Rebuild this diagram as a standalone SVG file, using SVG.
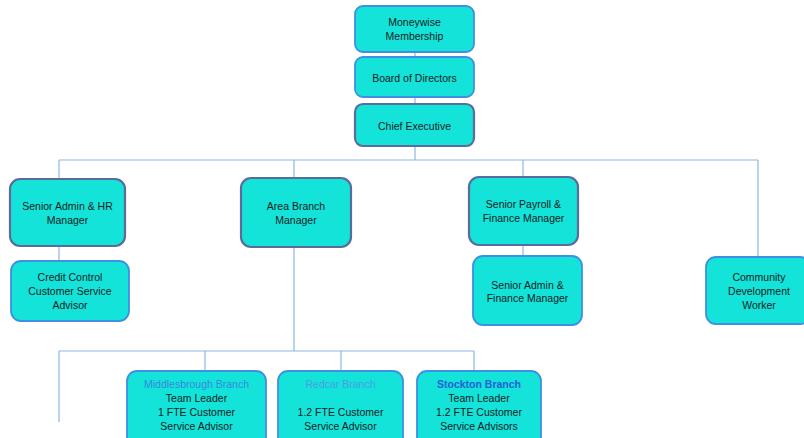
<svg xmlns="http://www.w3.org/2000/svg" width="804" height="438" viewBox="0 0 804 438">
<style>
.box{fill:#14e3d9;stroke:#3f8fe3;stroke-width:1.8}
.dark{stroke:#5b6c9c;stroke-width:2.2}
.conn{stroke:#8fb6e6;stroke-width:1.2;fill:none}
text{font-family:"Liberation Sans",Arial,sans-serif;font-size:10.5px;fill:#142222;text-anchor:middle;dominant-baseline:central}
.mb{fill:#3489e0}
.rc{fill:#4a9de8}
.st{fill:#1f62d4;font-weight:bold}
</style>
<rect width="804" height="438" fill="#ffffff"/>
<g id="connectors">
<path class="conn" d="M415 52V57M415 97V104M415 146V160M59 160H758M59 160V179M294 160V178M523 160V177M758 160V257M59 246V261M523 245V256M294 247V351M59 351H474M59 351V422M205 351V371M341 351V371M474 351V371"/>
</g>
<g id="moneywise"><rect class="box" x="355" y="6" width="119" height="46" rx="8"/><text x="414.5" y="22">Moneywise</text><text x="414.5" y="36">Membership</text></g>
<g id="board"><rect class="box" x="355" y="57" width="119" height="40" rx="8"/><text x="414.5" y="78">Board of Directors</text></g>
<g id="chief"><rect class="box dark" x="355" y="104" width="119" height="42" rx="8"/><text x="414.5" y="126">Chief Executive</text></g>
<g id="hr"><rect class="box dark" x="10" y="179" width="115" height="67" rx="10"/><text x="67.5" y="206">Senior Admin &amp; HR</text><text x="67.5" y="220">Manager</text></g>
<g id="credit"><rect class="box" x="11" y="261" width="118" height="60" rx="10"/><text x="70" y="277">Credit Control</text><text x="70" y="291">Customer Service</text><text x="70" y="305">Advisor</text></g>
<g id="area"><rect class="box dark" x="241" y="178" width="110" height="69" rx="10"/><text x="296" y="206">Area Branch</text><text x="296" y="220">Manager</text></g>
<g id="payroll"><rect class="box dark" x="469" y="177" width="109" height="68" rx="10"/><text x="523.5" y="204">Senior Payroll &amp;</text><text x="523.5" y="218">Finance Manager</text></g>
<g id="adminfin"><rect class="box" x="473" y="256" width="109" height="69" rx="10"/><text x="527.5" y="285">Senior Admin &amp;</text><text x="527.5" y="298">Finance Manager</text></g>
<g id="community"><rect class="box" x="706" y="257" width="104" height="67" rx="10"/><text x="759" y="277">Community</text><text x="759" y="291">Development</text><text x="759" y="305">Worker</text></g>
<g id="middlesbrough"><rect class="box" x="127" y="371" width="139" height="80" rx="10"/><text class="mb" x="196.5" y="384">Middlesbrough Branch</text><text x="196.5" y="398">Team Leader</text><text x="196.5" y="412">1 FTE Customer</text><text x="196.5" y="426">Service Advisor</text></g>
<g id="redcar"><rect class="box" x="278" y="371" width="125" height="80" rx="10"/><text class="rc" x="340.5" y="384">Redcar Branch</text><text x="340.5" y="412">1.2 FTE Customer</text><text x="340.5" y="426">Service Advisor</text></g>
<g id="stockton"><rect class="box" x="417" y="371" width="124" height="80" rx="10"/><text class="st" x="479" y="384">Stockton Branch</text><text x="479" y="398">Team Leader</text><text x="479" y="412">1.2 FTE Customer</text><text x="479" y="426">Service Advisors</text></g>
</svg>
